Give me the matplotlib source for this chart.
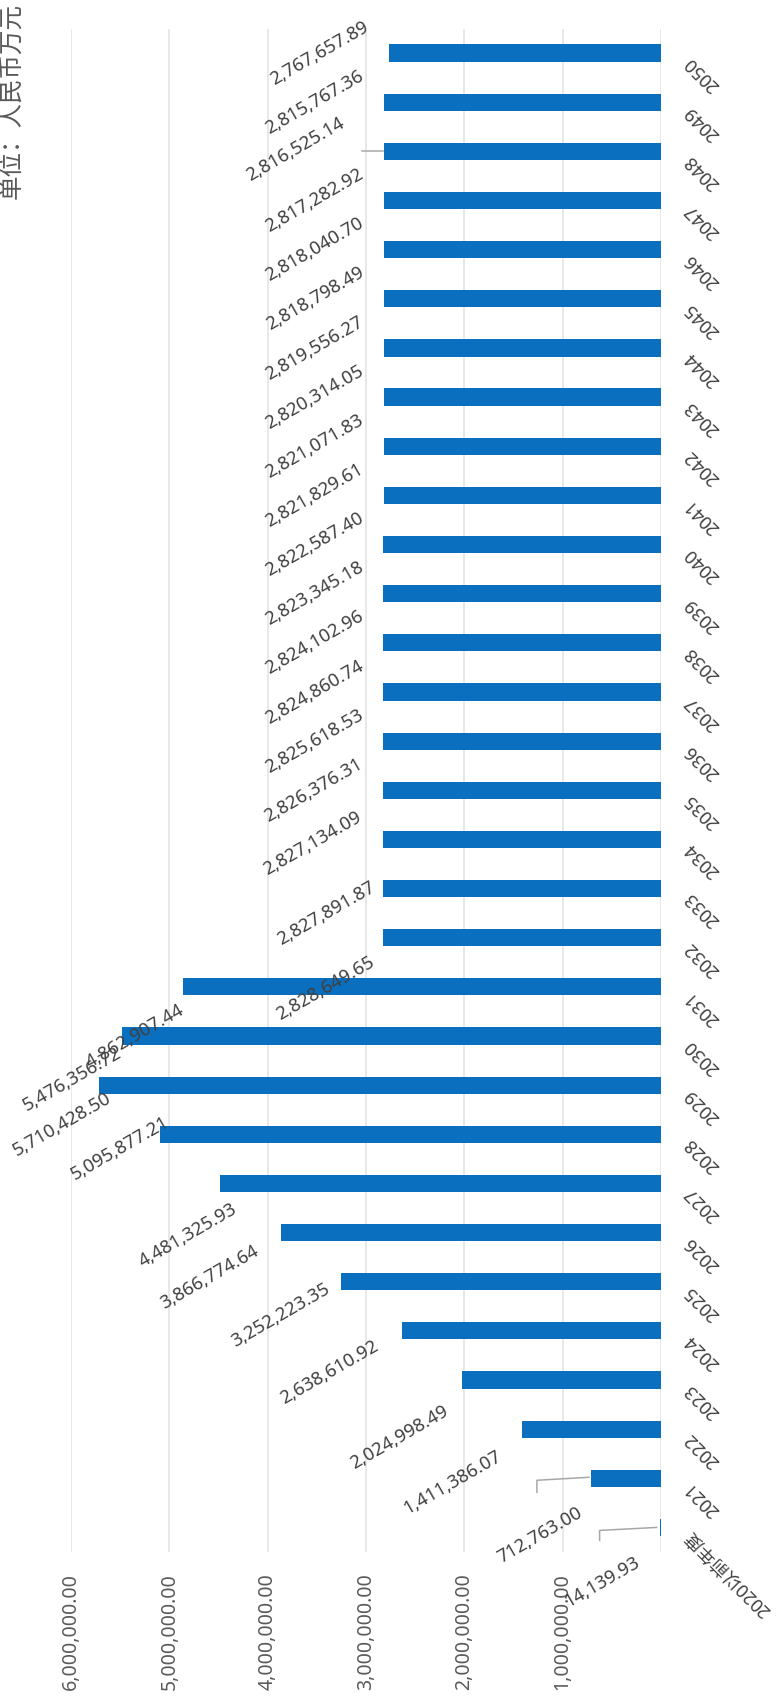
import numpy as np
import matplotlib
matplotlib.use("Agg")
import matplotlib.pyplot as plt

plt.rcParams['font.family'] = ['Noto Sans', 'Noto Sans CJK SC', 'DejaVu Sans']

# ---------------- data ----------------
categories = ['2020以前年度', '2021', '2022', '2023', '2024', '2025', '2026', '2027',
              '2028', '2029', '2030', '2031', '2032', '2033', '2034', '2035', '2036',
              '2037', '2038', '2039', '2040', '2041', '2042', '2043', '2044', '2045',
              '2046', '2047', '2048', '2049', '2050']
values = [14139.93, 712763.00, 1411386.07, 2024998.49, 2638610.92, 3252223.35,
          3866774.64, 4481325.93, 5095877.21, 5710428.50, 5476356.72, 4862907.44,
          2828649.65, 2827891.87, 2827134.09, 2826376.31, 2825618.53, 2824860.74,
          2824102.96, 2823345.18, 2822587.40, 2821829.61, 2821071.83, 2820314.05,
          2819556.27, 2818798.49, 2818040.70, 2817282.92, 2816525.14, 2815767.36,
          2767657.89]
x_ticks = [0, 1000000, 2000000, 3000000, 4000000, 5000000, 6000000]
x_tick_labels = ['', '1,000,000.00', '2,000,000.00', '3,000,000.00',
                 '4,000,000.00', '5,000,000.00', '6,000,000.00']
title = '单位：人民币万元'

# label placement (pixel offsets from bar end: dx right, dy down)
label_dx = [-17, -6, -17, -10, -20, -8, -19, 20, 12, 15, 2, 4, -5, -5, -18,
            -17, -17, -17, -17, -17, -17, -17, -17, -17, -17, -17, -17, -17, -36, -17, -17]
label_dy = [55, 57, 53, 57, 42, 34, 45, 52, 14, 39, 43, 50, 51, 25, 4,
            0, 0, 0, 0, 0, 0, 0, 0, 0, 0, 0, 0, 0, -2, 0, 0]
# leader lines: (category index, list of pixel offsets from bar end)
leaders = [(28, [(-22, 0), (-1, 0)]),
           (1, [(-54, 14), (-54, 2), (-2, -1)]),
           (0, [(-60, 13), (-60, 3), (-3, 0)])]

W, H, DPI = 780, 1705, 72
fig = plt.figure(figsize=(W / DPI, H / DPI), dpi=DPI)
fig.patch.set_facecolor('white')

left, right, top, bottom = 71, 661, 28.5, 1552
ax = fig.add_axes([left / W, 1 - bottom / H, (right - left) / W, (bottom - top) / H])

idx = np.arange(len(categories))
ax.barh(idx, values, height=0.35, color='#0A6FBF', zorder=3)

ax.set_xlim(6000000, 0)
ax.set_ylim(-0.5, len(categories) - 0.5)

ax.set_xticks(x_ticks)
ax.set_xticklabels(x_tick_labels, rotation=90, color='#5A5A5A', fontsize=19.5)
ax.tick_params(axis='x', length=0, pad=21)
ax.grid(axis='x', color='#E6E6E6', lw=1.8, zorder=0)

ax.yaxis.tick_right()
ax.set_yticks(idx)
ax.set_yticklabels(categories, rotation=135, color='#404040', fontsize=18,
                   va='top', ha='left')
ax.tick_params(axis='y', length=0, pad=20)

for s in ax.spines.values():
    s.set_visible(False)

# data labels
for i, v in enumerate(values):
    ax.annotate(f'{v:,.2f}', xy=(v, i), xytext=(label_dx[i], -label_dy[i]),
                textcoords='offset points', ha='right', va='center', rotation=30,
                fontsize=18.5, color='#404040', zorder=5)

# leader lines
fig.canvas.draw()
for i, offs in leaders:
    px, py = ax.transData.transform((values[i], i))
    pts = np.array([(px + dx * DPI / 72, py - dy * DPI / 72) for dx, dy in offs])
    dpts = ax.transData.inverted().transform(pts)
    ax.plot(dpts[:, 0], dpts[:, 1], color='#A6A6A6', lw=1.5, clip_on=False, zorder=4)

fig.text(12.5 / W, 1 - 3 / H, title, rotation=90, ha='center', va='top',
         fontsize=24.5, color='#595959', family=['Noto Sans CJK SC', 'DejaVu Sans'])

fig.savefig('out.png', dpi=DPI, facecolor='white')
